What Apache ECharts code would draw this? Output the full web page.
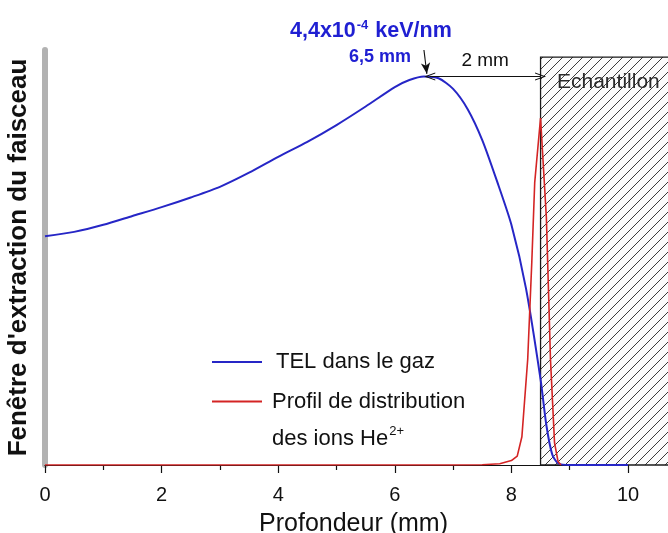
<!DOCTYPE html>
<html>
<head>
<meta charset="utf-8">
<script src="https://cdn.jsdelivr.net/npm/echarts@6/dist/echarts.min.js"></script>
<style>
html,body{margin:0;padding:0;background:#fff;}
#chart{width:668px;height:533px;}
</style>
</head>
<body>
<div id="chart"></div>
<script>
// ---- data ----
const blueName = 'TEL dans le gaz';
const blueX = [0,0.5,1,1.5,2,2.5,3,3.5,4,4.5,5,5.5,6,6.25,6.5,6.75,7,7.25,7.5,7.75,8,8.25,8.5,8.6,8.7,8.8,9,9.5,10];
const blueY = [2.59,2.64,2.72,2.82,2.92,3.03,3.15,3.31,3.49,3.66,3.85,4.06,4.28,4.36,4.40,4.38,4.26,4.03,3.68,3.22,2.72,2.00,0.97,0.45,0.12,0.02,0,0,0];

const redName = 'Profil de distribution des ions He2+';
const redX = [0,1,2,3,4,5,6,7,7.5,7.8,8.0,8.1,8.18,8.28,8.35,8.4,8.5,8.6,8.67,8.74,8.8,8.85];
const redY = [0,0,0,0,0,0,0,0,0.003,0.015,0.05,0.1,0.32,1.2,2.3,3.2,3.93,2.8,1.2,0.25,0.04,0];

const peakPoint = [6.6, 4.4];        // TEL maximum (6,5 mm)
const sampleEdge = [8.5];            // start of the sample (Echantillon)
const sampleRange = [8.5, 10.7];     // sample extends past the plot
const sampleTop = [4.62];
const peakArrowFrom = [6.5, 4.7];
const peakArrowTo = [6.55, 4.43];

// ---- hatch pattern ----
const hatch = document.createElement('canvas');
hatch.width = 10; hatch.height = 10;
(function(){
  const c = hatch.getContext('2d');
  c.fillStyle = '#fbfbfb';
  c.fillRect(0,0,10,10);
  c.strokeStyle = '#3a3a3a';
  c.lineWidth = 1;
  c.beginPath();
  c.moveTo(-1,11); c.lineTo(11,-1);
  c.moveTo(-6,6); c.lineTo(6,-6);
  c.moveTo(4,16); c.lineTo(16,4);
  c.stroke();
})();

const FONT = "'Liberation Sans', Arial, sans-serif";
const BLUE = '#2626c6';
const RED = '#d42424';
const ANN_BLUE = '#1f1fd2';
const chev = 'path://M0,10 L5,0 L10,10 L8.8,10 L5,2.6 L1.2,10 Z';

const chart = echarts.init(document.getElementById('chart'), null, {renderer:'canvas'});

const option = {
  animation: false,
  backgroundColor: '#ffffff',
  textStyle: {fontFamily: FONT},
  grid: {left: 45, right: 40, top: 50, bottom: 68, containLabel: false, outerBoundsMode: 'none'},
  xAxis: {
    type: 'value', min: 0, max: 10, interval: 2,
    axisLine: {show: true, lineStyle: {color: '#111', width: 1.2}},
    axisTick: {show: true, length: 8, lineStyle: {color: '#111', width: 1.2}},
    minorTick: {show: true, splitNumber: 2, length: 5, lineStyle: {color: '#111', width: 1.2}},
    axisLabel: {fontSize: 20, color: '#111', margin: 20, fontFamily: FONT},
    splitLine: {show: false},
    name: 'Profondeur (mm)', nameLocation: 'middle', nameGap: 47,
    nameTextStyle: {fontSize: 25, color: '#111', fontFamily: FONT, padding: [0,0,0,34]}
  },
  yAxis: {
    type: 'value', min: 0, max: 4.7,
    axisLine: {show: true, lineStyle: {color: '#b2b2b2', width: 6}},
    axisTick: {show: false}, axisLabel: {show: false}, splitLine: {show: false},
    name: "Fenêtre d'extraction du faisceau", nameLocation: 'middle', nameGap: 13,
    nameTextStyle: {fontSize: 26, fontWeight: 'bold', color: '#111', fontFamily: FONT}
  },
  legend: [
    {
      data: [blueName], left: 212, top: 349, orient: 'vertical', padding: 0,
      icon: 'rect', itemWidth: 50, itemHeight: 2, selectedMode: false,
      textStyle: {fontSize: 22, color: '#111', lineHeight: 26, padding: [0,0,0,9], fontFamily: FONT}
    },
    {
      data: [redName], left: 212, top: 353.5, orient: 'vertical', padding: 0,
      icon: 'rect', itemWidth: 50, itemHeight: 2, selectedMode: false,
      formatter: function(){ return '{e| }\n{a|Profil de distribution}\n{a|des ions He}{sup|2+}'; },
      textStyle: {
        fontSize: 22, color: '#111', padding: [0,0,0,5], fontFamily: FONT,
        rich: {
          e: {fontSize: 22, lineHeight: 37},
          a: {fontSize: 22, lineHeight: 37, color: '#111', fontFamily: FONT},
          sup: {fontSize: 13, lineHeight: 37, verticalAlign: 'top', padding: [5,0,0,1], color: '#111', fontFamily: FONT}
        }
      }
    }
  ],
  graphic: [
    {
      type: 'text', left: 290, top: 17, silent: true,
      style: {
        text: '{a|4,4x10}{s|-4}{a| keV/nm}',
        rich: {
          a: {fontSize: 21.5, fontWeight: 'bold', fill: ANN_BLUE, lineHeight: 28, fontFamily: FONT},
          s: {fontSize: 13, fontWeight: 'bold', fill: ANN_BLUE, lineHeight: 28, verticalAlign: 'top', padding: [2,1,0,1], fontFamily: FONT}
        }
      }
    },
    {
      type: 'text', left: 349, top: 48, silent: true,
      style: {text: '6,5 mm', fontSize: 18, fontWeight: 'bold', fill: ANN_BLUE, fontFamily: FONT}
    },
    {
      type: 'text', left: 557, top: 72, silent: true, z: 10,
      style: {text: 'Echantillon', fontSize: 21, fill: '#2a2a2a', fontFamily: FONT}
    }
  ],
  series: [
    {
      type: 'custom', name: 'Echantillon', silent: true, clip: false, z: 1,
      data: [[sampleRange[0], sampleRange[1], sampleTop[0]]],
      encode: {x: [0,1], y: 2},
      renderItem: function(params, api){
        const tl = api.coord([api.value(0), api.value(2)]);
        const br = api.coord([api.value(1), 0]);
        return {
          type: 'rect',
          shape: {x: tl[0], y: tl[1], width: br[0]-tl[0], height: br[1]-tl[1]},
          style: {fill: {image: hatch, repeat: 'repeat'}, stroke: '#1a1a1a', lineWidth: 1.3}
        };
      }
    },
    {
      type: 'line', name: blueName, z: 3, clip: false,
      data: blueX.map((x,i)=>[x, blueY[i]]),
      symbol: 'none', smooth: 0.25,
      lineStyle: {color: BLUE, width: 2}, itemStyle: {color: BLUE},
      markLine: {
        silent: true, animation: false,
        symbol: [chev, chev], symbolSize: [8, 11],
        lineStyle: {color: '#111', width: 1.1, type: 'solid'},
        label: {show: true, position: 'middle', formatter: '2 mm', fontSize: 19, color: '#111', distance: 6, fontFamily: FONT},
        data: [
          [{coord: peakPoint}, {coord: [sampleEdge[0], peakPoint[1]]}],
          [{coord: peakArrowFrom, symbol: 'none', label: {show: false}},
           {coord: peakArrowTo, symbol: 'arrow', symbolSize: [7, 11], label: {show: false}}]
        ]
      }
    },
    {
      type: 'line', name: redName, z: 4,
      data: redX.map((x,i)=>[x, redY[i]]),
      symbol: 'none', smooth: false,
      lineStyle: {color: RED, width: 1.6}, itemStyle: {color: RED}
    }
  ]
};
chart.setOption(option);
</script>
</body>
</html>
